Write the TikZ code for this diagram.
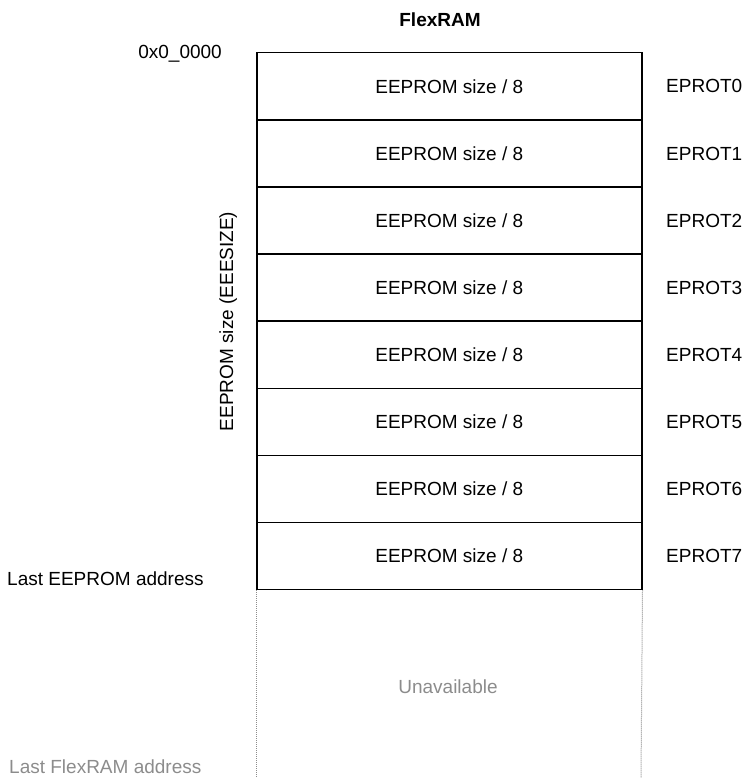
\documentclass[tikz,border=0pt]{standalone}
\usepackage{fontspec}
\setmainfont{Liberation Sans}
\begin{document}
\begin{tikzpicture}[x=1pt,y=-1pt,
  every node/.style={font=\fontsize{19}{22}\selectfont, inner sep=0pt},
  cell/.style={draw=black, line width=1.5pt, minimum width=385pt, minimum height=67.1pt, anchor=north west},
  lbl/.style={anchor=base west},
  greytxt/.style={text=black!45},
  dots/.style={draw=black!45, line width=1pt, dash pattern=on 1pt off 1pt}]
\useasboundingbox (0,0) rectangle (746,778);
\node[font=\fontsize{19}{22}\selectfont\bfseries, anchor=base] (title) at (440,27) {FlexRAM};
\foreach \i in {0,...,7}{
  \node[cell] (c\i) at (256,{52+67.1*\i}) {EEPROM size / 8};
  \node[lbl] (p\i) at (666,{52+67.1*\i+41}) {EPROT\i};
}
\node[anchor=base east] (addr0) at (222,59) {0x0\_0000};
\node[anchor=base west] (lastee) at (7,585) {Last EEPROM address};
\node[anchor=base west, greytxt] (lastfr) at (9,773) {Last FlexRAM address};
\node[rotate=90, anchor=base] (size) at (233,321.5) {EEPROM size (EEESIZE)};
\coordinate (bl) at (256,778);
\coordinate (br) at (641,778);
\draw[dots] (c7.south west) -- (bl);
\draw[dots] (c7.south east) -- (br);
\node[greytxt, anchor=base] (unav) at (448,693) {Unavailable};
\end{tikzpicture}
\end{document}
